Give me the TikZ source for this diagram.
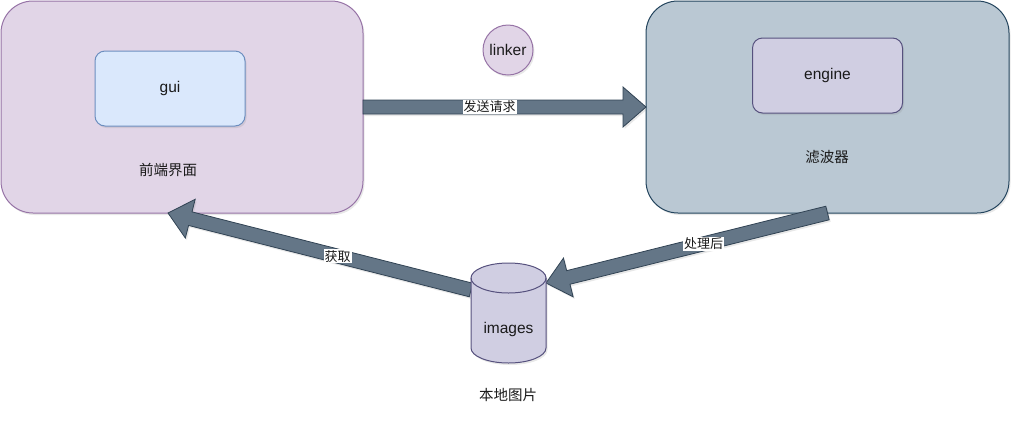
\documentclass[tikz,border=0pt]{standalone}
\usepackage{fontspec}
\setmainfont{Liberation Sans}
\newfontfamily\cjk{Noto Sans CJK SC}
\usetikzlibrary{calc,shadows}
\definecolor{purpfill}{HTML}{E1D5E7}
\definecolor{purpline}{HTML}{9673A6}
\definecolor{bluefill}{HTML}{DAE8FC}
\definecolor{blueline}{HTML}{6C8EBF}
\definecolor{greyfill}{HTML}{BAC8D3}
\definecolor{greyline}{HTML}{23445D}
\definecolor{lavfill}{HTML}{D0CEE2}
\definecolor{lavline}{HTML}{56517E}
\definecolor{arrfill}{HTML}{647687}
\definecolor{arrline}{HTML}{314354}
\definecolor{txt}{HTML}{1A1A1A}
\tikzset{
  softshadow/.style={drop shadow={opacity=0.18,shadow xshift=1.5pt,shadow yshift=-2pt}},
  bigbox/.style={rectangle,rounded corners=32pt,line width=1pt,inner sep=0pt,outer sep=0pt,softshadow},
  smallbox/.style={rectangle,rounded corners=10pt,line width=1pt,inner sep=0pt,outer sep=0pt,softshadow},
  txtlabel/.style={text=txt,inner sep=0pt,font=\fontsize{15.5}{18}\selectfont},
  cjklabel/.style={text=txt,inner sep=0pt,font=\cjk\fontsize{14.5}{17}\selectfont},
  arrlabel/.style={text=txt,fill=white,inner sep=1pt,font=\cjk\fontsize{13}{15}\selectfont},
  flexarrow/.style={fill=arrfill,draw=arrline,line width=0.8pt,line join=miter,softshadow},
  cylstyle/.style={fill=lavfill,draw=lavline,line width=1pt,softshadow},
}
\newcommand{\flexarr}[2]{%
  \coordinate (fa-h) at ($(#2)!23pt!(#1)$);
  \path[flexarrow] ($(#1)!7pt!90:(#2)$) -- ($(fa-h)!7pt!90:(#2)$) -- ($(fa-h)!20pt!90:(#2)$)
    -- (#2) -- ($(fa-h)!20pt!-90:(#2)$) -- ($(fa-h)!7pt!-90:(#2)$) -- ($(#1)!7pt!-90:(#2)$) -- cycle;%
}
\begin{document}
\begin{tikzpicture}[x=1pt,y=-1pt]
\useasboundingbox (0,0) rectangle (1024,429);
% containers
\node[bigbox,fill=purpfill,draw=purpline,minimum width=362pt,minimum height=212pt] (front) at (182,107) {};
\node[bigbox,fill=greyfill,draw=greyline,minimum width=363pt,minimum height=212pt] (filter) at (827.5,107) {};
% inner boxes
\node[smallbox,fill=bluefill,draw=blueline,minimum width=150pt,minimum height=75pt] (gui) at (170,88.5) {};
\node[txtlabel] (guit) at (170,88) {gui};
\node[smallbox,fill=lavfill,draw=lavline,minimum width=150pt,minimum height=75pt] (engine) at (827.5,75.5) {};
\node[txtlabel] (enginet) at (827.5,75) {engine};
\node[cjklabel] (frontt) at (168,170) {前端界面};
\node[cjklabel] (filtert) at (827,157) {滤波器};
% linker
\node[circle,fill=purpfill,draw=purpline,line width=1pt,minimum size=50pt,inner sep=0pt,softshadow] (linker) at (508,50) {};
\node[txtlabel] (linkert) at (508,50) {linker};
% cylinder (positioning node)
\node[rectangle,minimum width=75pt,minimum height=100pt,inner sep=0pt,outer sep=0pt] (cyl) at (508.5,313) {};
% connector ends
\coordinate (cylR) at ([yshift=-20pt]cyl.north east);
\coordinate (cylL) at ([yshift=-27pt]cyl.north west);
\coordinate (fTip) at ([xshift=-14pt]front.south);
% arrows
\flexarr{front.east}{filter.west}
\flexarr{filter.south}{cylR}
\flexarr{cylL}{fTip}
% cylinder drawing
\path[cylstyle] ([yshift=-15pt]cyl.north west) -- ([yshift=15pt]cyl.south west)
  arc[start angle=180,end angle=360,x radius=37.5pt,y radius=15pt]
  -- ([yshift=-15pt]cyl.north east)
  arc[start angle=0,end angle=180,x radius=37.5pt,y radius=15pt] -- cycle;
\draw[lavline,line width=1pt] ([yshift=-15pt]cyl.north west) arc[start angle=180,end angle=360,x radius=37.5pt,y radius=15pt];
\node[txtlabel] (cylt) at (508.5,329) {images};
\node[cjklabel] (locallabel) at (508,395) {本地图片};
% arrow labels
\node[arrlabel] (l1) at ($(front.east)!0.447!(filter.west)$) {发送请求};
\node[arrlabel] (l2) at ($(filter.south)!0.44!(cylR)$) {处理后};
\node[arrlabel] (l3) at ($(cylL)!0.44!(fTip)$) {获取};
\end{tikzpicture}
\end{document}
